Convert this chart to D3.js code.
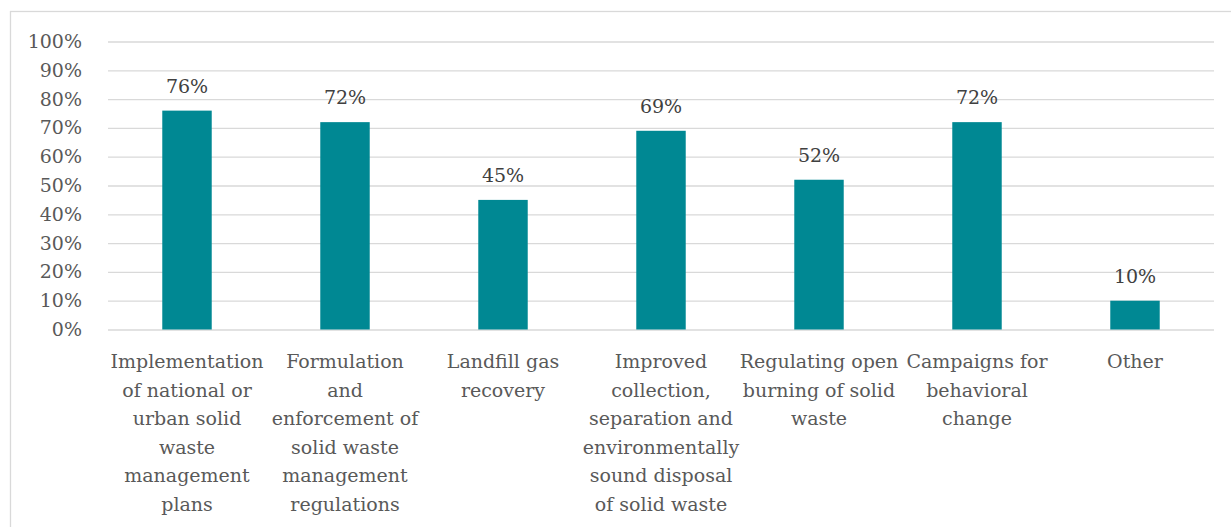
<!DOCTYPE html>
<html><head><meta charset="utf-8">
<script src="https://cdn.jsdelivr.net/npm/d3@7"></script>
<style>
html,body{margin:0;padding:0;background:#fff;}
svg{display:block;}
text{font-family:"DejaVu Serif","Liberation Serif",serif;}
</style></head>
<body>
<svg id="chart" width="1231" height="527"></svg>
<script>
const categories = [
  ["Implementation","of national or","urban solid","waste","management","plans"],
  ["Formulation","and","enforcement of","solid waste","management","regulations"],
  ["Landfill gas","recovery"],
  ["Improved","collection,","separation and","environmentally","sound disposal","of solid waste"],
  ["Regulating open","burning of solid","waste"],
  ["Campaigns for","behavioral","change"],
  ["Other"]
];
const values = [0.76, 0.72, 0.45, 0.69, 0.52, 0.72, 0.10];
const tickValues = [0,0.1,0.2,0.3,0.4,0.5,0.6,0.7,0.8,0.9,1.0];

(function(){
const svg = d3.select("#chart");
const mL = 108, mR = 1214, mT = 41.5, mB = 329.5;

svg.append("rect").attr("x",10.5).attr("y",11.5).attr("width",1240).attr("height",540)
  .attr("fill","none").attr("stroke","#d9d9d9").attr("stroke-width",1.3);

const x = d3.scaleBand().domain(d3.range(values.length)).range([mL,mR]).padding(0);
const y = d3.scaleLinear().domain([0,1]).range([mB,mT]);
const barFrac = 0.313;
const fs = 19;

const yAxis = d3.axisLeft(y).tickValues(tickValues).tickFormat(d3.format(".0%")).tickSize(-(mR-mL)).tickPadding(26);
const gy = svg.append("g").attr("transform",`translate(${mL},0)`).call(yAxis);
gy.select(".domain").remove();
gy.selectAll(".tick line").attr("stroke","#d9d9d9").attr("stroke-width",1.3);
gy.selectAll(".tick text").attr("fill","#595959").style("font-size",fs+"px")
  .style("font-family",'"DejaVu Serif","Liberation Serif",serif');

const bw = x.bandwidth()*barFrac;
svg.append("g").selectAll("rect").data(values).join("rect")
  .attr("x",(d,i)=>x(i)+(x.bandwidth()-bw)/2)
  .attr("y",d=>y(d))
  .attr("width",bw)
  .attr("height",d=>y(0)-y(d))
  .attr("fill","#008893");

svg.append("g").selectAll("text").data(values).join("text")
  .attr("x",(d,i)=>x(i)+x.bandwidth()/2)
  .attr("y",d=>y(d)-18)
  .attr("text-anchor","middle")
  .attr("fill","#404040")
  .style("font-size",fs+"px")
  .text(d=>d3.format(".0%")(d));

const cg = svg.append("g");
categories.forEach((lines,i)=>{
  const t = cg.append("text").attr("text-anchor","middle").attr("fill","#595959").style("font-size",fs+"px");
  lines.forEach((ln,j)=>{
    t.append("tspan").attr("x",x(i)+x.bandwidth()/2).attr("y",368+j*28.6).text(ln);
  });
});
})();
</script>
</body></html>
